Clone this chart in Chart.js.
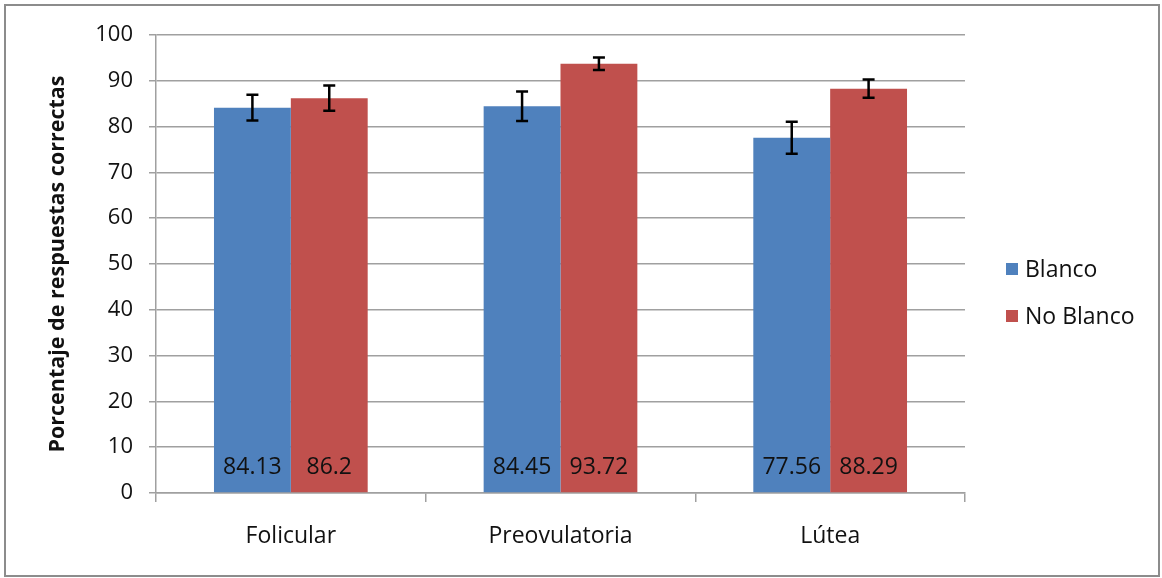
<!DOCTYPE html>
<html>
<head>
<meta charset="UTF-8">
<script src="https://cdn.jsdelivr.net/npm/chart.js@4.4.0/dist/chart.umd.min.js"></script>
<style>
  body { margin: 0; background: #fff; }
  #wrap { width: 1162px; height: 578px; position: relative; }
</style>
</head>
<body>
<div id="wrap"><canvas id="chart"></canvas></div>
<script>
// data
var fases = ["Folicular", "Preovulatoria", "Lútea"];
var blanco = [84.13, 84.45, 77.56];
var noBlanco = [86.2, 93.72, 88.29];
var errBlanco = [2.8, 3.2, 3.5];
var errNoBlanco = [2.75, 1.35, 2.0];
var yTicks = [0, 10, 20, 30, 40, 50, 60, 70, 80, 90, 100];

var FONT = "'Open Sans', Lato, sans-serif";
var errors = [errBlanco, errNoBlanco];

// frame, error bars, value labels, legend
var extras = {
    id: 'extras',
    beforeDraw: function (chart) {
        var c = chart.ctx;
        c.save();
        c.fillStyle = '#fff';
        c.fillRect(0, 0, chart.width, chart.height);
        c.strokeStyle = '#8c8c8c';
        c.lineWidth = 2;
        c.strokeRect(5, 5, 1154, 571);
        c.restore();
    },
    afterDatasetsDraw: function (chart) {
        var c = chart.ctx;
        var y = chart.scales.y;
        c.save();
        chart.data.datasets.forEach(function (ds, i) {
            var meta = chart.getDatasetMeta(i);
            meta.data.forEach(function (bar, j) {
                var v = ds.data[j];
                var e = errors[i][j];
                var top = y.getPixelForValue(v + e);
                var bot = y.getPixelForValue(v - e);
                c.strokeStyle = '#000';
                c.lineWidth = 2.5;
                c.beginPath();
                c.moveTo(bar.x, top); c.lineTo(bar.x, bot);
                c.moveTo(bar.x - 6, top); c.lineTo(bar.x + 6, top);
                c.moveTo(bar.x - 6, bot); c.lineTo(bar.x + 6, bot);
                c.stroke();

                c.fillStyle = '#111';
                c.font = '23px ' + FONT;
                c.textAlign = 'center';
                c.textBaseline = 'middle';
                c.fillText(String(v), bar.x, 467);
            });
        });

        // legend
        var items = [['Blanco', '#4F81BD', 269], ['No Blanco', '#C0504D', 316]];
        c.font = '23px ' + FONT;
        c.textAlign = 'left';
        c.textBaseline = 'middle';
        items.forEach(function (it) {
            c.fillStyle = it[1];
            c.fillRect(1006, it[2] - 6, 12, 12);
            c.fillStyle = '#111';
            c.fillText(it[0], 1025, it[2] + 1);
        });
        c.restore();
    }
};

new Chart(document.getElementById('chart'), {
    type: 'bar',
    data: {
        labels: fases,
        datasets: [
            { label: 'Blanco', data: blanco, backgroundColor: '#4F81BD' },
            { label: 'No Blanco', data: noBlanco, backgroundColor: '#C0504D' }
        ]
    },
    options: {
        responsive: true,
        maintainAspectRatio: false,
        animation: false,
        layout: { padding: { top: 35, right: 197, bottom: 0, left: 0 } },
        datasets: { bar: { categoryPercentage: 0.57, barPercentage: 1.0 } },
        plugins: {
            legend: { display: false },
            tooltip: { enabled: false }
        },
        scales: {
            x: {
                afterFit: function (s) { s.height = 85; },
                grid: { offset: true, drawOnChartArea: false, color: '#a0a0a0', tickLength: 9, lineWidth: 1.5 },
                border: { color: '#a0a0a0', width: 1.5 },
                ticks: { color: '#111', font: { family: FONT, size: 23 }, padding: 21 }
            },
            y: {
                min: 0, max: 100,
                afterFit: function (s) { s.width = 156; },
                afterBuildTicks: function (s) { s.ticks = yTicks.map(function (v) { return { value: v }; }); },
                grid: { color: '#a0a0a0', tickLength: 7, lineWidth: 1.5 },
                border: { color: '#a0a0a0', width: 1.5 },
                ticks: { color: '#111', font: { family: FONT, size: 22 }, padding: 16 },
                title: {
                    display: true,
                    text: 'Porcentaje de respuestas correctas',
                    color: '#111',
                    font: { family: FONT, size: 21.5, weight: 'bold' },
                    padding: { top: 45, bottom: 0 }
                }
            }
        }
    },
    plugins: [extras]
});
</script>
</body>
</html>
